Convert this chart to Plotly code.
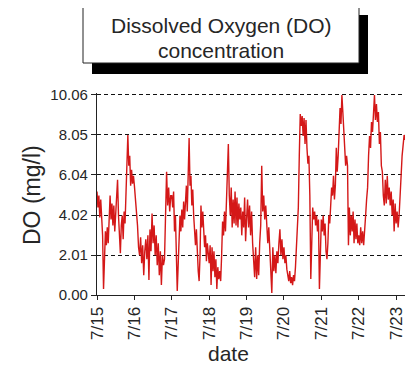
import plotly.graph_objects as go
import pandas as pd

# Dissolved oxygen readings (mg/l), one list per day, spread evenly across that day
day_starts = ["2004-07-15", "2004-07-16", "2004-07-17", "2004-07-18", "2004-07-19",
              "2004-07-20", "2004-07-21", "2004-07-22", "2004-07-23"]
day_coverage = [1, 1, 1, 1, 1, 1, 1, 1, 0.40]   # fraction of the day with readings

do_0715 = [5.2, 4.4, 5.0, 3.9, 4.8, 3.7, 3.0, 0.3, 1.6, 3.2, 2.5, 3.4, 2.6, 4.0, 5.0, 3.8,
           4.6, 3.5, 4.5, 3.2, 4.2, 5.0, 5.8, 4.0, 3.0, 2.1, 3.5, 4.0, 2.8, 4.2, 3.6, 4.9,
           6.0, 8.05, 6.5, 7.0, 5.5, 6.3, 5.6, 6.0]
do_0716 = [5.5, 4.8, 4.5, 3.5, 2.4, 2.0, 2.9, 1.6, 2.5, 1.0, 2.2, 2.8, 1.8, 3.0, 0.75, 3.3,
           2.2, 4.1, 2.6, 3.5, 2.0, 3.0, 1.5, 2.6, 1.0, 2.2, 0.5, 2.0, 1.5, 1.8, 4.0, 6.2,
           4.5, 5.4, 4.2, 5.0]
do_0717 = [5.0, 4.4, 5.2, 3.2, 4.0, 2.0, 0.2, 1.5, 3.0, 4.0, 3.2, 4.3, 3.4, 4.7, 3.8, 4.6,
           5.5, 4.2, 6.0, 7.9, 5.5, 6.0, 4.5, 5.3, 4.0, 3.4, 2.5, 3.3, 1.8, 1.2, 0.7, 2.0,
           4.5, 3.4, 4.2, 3.0, 2.4, 3.0, 1.7, 2.6, 2.0]
do_0718 = [1.6, 2.5, 0.5, 2.4, 1.2, 2.2, 0.9, 1.8, 0.3, 1.4, 0.8, 1.2, 0.7, 2.0, 3.7, 3.0,
           4.2, 3.2, 4.5, 6.0, 7.6, 5.0, 4.0, 5.4, 3.4, 4.8, 3.6, 5.2, 3.5, 4.9, 3.4, 4.6,
           3.8, 4.4, 3.0, 4.2, 3.4, 4.9, 2.7]
do_0719 = [3.8, 4.8, 3.4, 4.5, 3.0, 4.2, 2.6, 1.5, 0.9, 2.4, 0.8, 2.0, 1.0, 2.6, 3.5, 6.5,
           4.2, 5.0, 3.8, 4.5, 3.6, 2.6, 3.4, 2.4, 1.5, 0.1, 2.4, 1.2, 2.0, 1.1, 2.2, 1.6,
           2.6, 3.3, 2.0, 2.8, 1.8]
do_0720 = [2.4, 1.6, 2.0, 1.3, 1.0, 0.7, 1.2, 0.6, 0.9, 0.5, 1.0, 0.7, 1.4, 2.2, 3.0, 4.4,
           7.0, 9.1, 8.5, 9.0, 8.0, 8.9, 7.6, 8.8, 7.4, 6.6, 7.0, 5.0, 0.8, 3.6, 4.4, 3.8,
           4.2, 3.5, 4.0, 3.2, 3.8, 0.3, 3.0]
do_0721 = [3.8, 3.2, 4.0, 3.0, 3.6, 2.2, 1.8, 2.6, 4.0, 3.6, 4.6, 5.4, 5.0, 6.0, 4.8, 5.5,
           7.4, 6.2, 7.0, 8.5, 9.4, 8.6, 10.06, 9.2, 8.4, 7.4, 6.5, 7.0, 6.5, 2.5, 4.4, 3.0,
           4.0, 3.2, 4.2, 2.6, 3.8, 2.8, 3.6, 2.6]
do_0722 = [3.0, 2.5, 3.4, 2.6, 3.2, 2.5, 3.6, 4.0, 4.8, 5.4, 7.0, 8.0, 7.4, 8.7, 8.2, 9.0,
           10.06, 8.8, 9.6, 8.7, 9.2, 7.6, 8.2, 6.5, 6.2, 5.0, 4.5, 5.8, 4.6, 6.0, 4.8, 5.4,
           4.5, 5.2, 4.0, 4.8, 3.2, 4.6]
do_0723 = [3.6, 4.2, 3.4, 4.0, 5.4, 6.0, 7.0, 7.5, 8.05, 7.8, 8.5, 8.7, 9.0, 8.8, 8.9]

daily_values = [do_0715, do_0716, do_0717, do_0718, do_0719,
                do_0720, do_0721, do_0722, do_0723]

tick_days = day_starts
tick_labels = ["7/15", "7/16", "7/17", "7/18", "7/19", "7/20", "7/21", "7/22", "7/23"]
y_ticks = [0.0, 2.01, 4.02, 6.04, 8.05, 10.06]
y_labels = ["0.00", "2.01", "4.02", "6.04", "8.05", "10.06"]

times, values = [], []
for start, cov, vals in zip(day_starts, day_coverage, daily_values):
    t0 = pd.Timestamp(start)
    n = len(vals)
    for i, v in enumerate(vals):
        times.append(t0 + pd.Timedelta(days=cov * i / n))
        values.append(v)

FONT = "Liberation Sans, Arial, sans-serif"
TXT = "#262626"

fig = go.Figure()
fig.add_trace(go.Scatter(x=times, y=values, mode="lines",
                         line=dict(color="#d41818", width=1.4), hoverinfo="skip"))

# page has an 8px body margin; plot area in page pixels: x 97..413, y 93..295
PH = 202.0
def px(x):
    return (x - 97) / 316.0

def py(y):
    return (295 - y) / PH

fig.update_layout(
    width=405, height=360,
    margin=dict(l=89, r=0, t=85, b=73, autoexpand=False),
    paper_bgcolor="white", plot_bgcolor="white",
    showlegend=False,
    font=dict(family=FONT, color=TXT),
    xaxis=dict(type="date",
               range=[pd.Timestamp("2004-07-15"), pd.Timestamp("2004-07-23 10:50")],
               tickvals=[pd.Timestamp(d) for d in tick_days], ticktext=tick_labels,
               tickangle=-90, tickfont=dict(size=17, color=TXT, family=FONT),
               ticks="outside", ticklen=4, tickcolor="#222",
               showline=True, linecolor="#222", linewidth=1.2,
               showgrid=False, zeroline=False, automargin=False),
    yaxis=dict(range=[0, 10.16], tickvals=y_ticks, ticktext=y_labels,
               tickfont=dict(size=15, color=TXT, family=FONT),
               ticks="outside", ticklen=5, tickcolor="#222",
               showline=True, linecolor="#222", linewidth=1.2,
               showgrid=True, gridcolor="#111", gridwidth=1, griddash="4px,3px",
               zeroline=False, automargin=False),
    shapes=[
        dict(type="rect", xref="paper", yref="paper",
             x0=px(92), x1=px(368), y0=py(74), y1=py(15),
             fillcolor="black", line=dict(color="black", width=0), layer="above"),
        dict(type="rect", xref="paper", yref="paper",
             x0=px(83), x1=px(359), y0=py(63), y1=py(7),
             fillcolor="white", line=dict(color="#222", width=1), layer="above"),
    ],
    annotations=[
        dict(text="Dissolved Oxygen (DO)", xref="paper", yref="paper",
             x=px(221), y=py(26), xanchor="center", yanchor="middle", showarrow=False,
             font=dict(size=21, color=TXT, family=FONT)),
        dict(text="concentration", xref="paper", yref="paper",
             x=px(221), y=py(50), xanchor="center", yanchor="middle", showarrow=False,
             font=dict(size=21, color=TXT, family=FONT)),
        dict(text="DO (mg/l)", xref="paper", yref="paper", textangle=-90,
             x=px(32), y=py(195), xanchor="center", yanchor="middle", showarrow=False,
             font=dict(size=23, color=TXT, family=FONT)),
        dict(text="date", xref="paper", yref="paper",
             x=px(228), y=py(353), xanchor="center", yanchor="middle", showarrow=False,
             font=dict(size=21, color=TXT, family=FONT)),
    ],
)

fig.write_html("out.html")
